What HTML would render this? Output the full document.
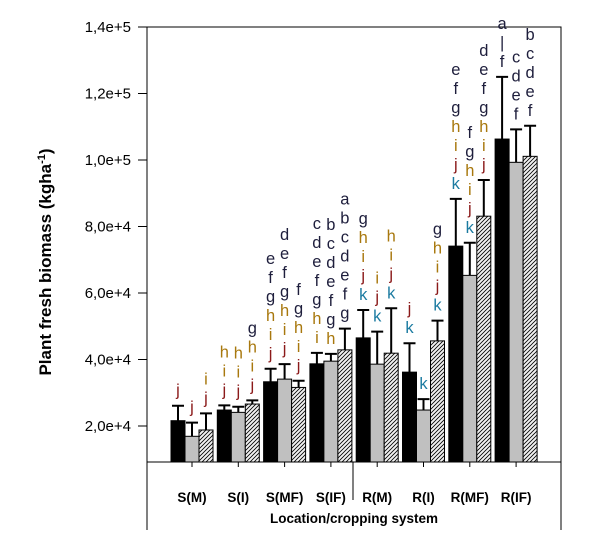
<!DOCTYPE html>
<html><head><meta charset="utf-8"><style>
body{margin:0;background:#fff;}
svg text{font-family:"Liberation Sans",Arial,sans-serif;}
</style></head><body>
<svg id="chart" width="602" height="554" xmlns="http://www.w3.org/2000/svg">
<defs>
<pattern id="hatch" patternUnits="userSpaceOnUse" width="4" height="4">
<rect width="4" height="4" fill="#f2f2f2"/>
<path d="M-1,1 l2,-2 M0,4 l4,-4 M3,5 l2,-2" stroke="#000" stroke-width="0.8"/>
</pattern>
</defs>
<g id="plot"></g>
</svg>
<script>
const categories=["S(M)","S(I)","S(MF)","S(IF)","R(M)","R(I)","R(MF)","R(IF)"];
const seriesBlack=[21600,24800,33300,38700,46500,36200,74100,106300];
const errBlack=[4500,1400,3900,3300,8400,8700,14200,18700];
const seriesGray=[16900,24100,34100,39500,38600,24800,65300,99300];
const errGray=[4100,1700,4500,2200,9800,3300,9800,9900];
const seriesHatch=[18800,26600,31600,42900,41900,45600,83100,101100];
const errHatch=[5000,1100,2000,6400,13500,6100,10900,9200];
const yTicks=[20000,40000,60000,80000,100000,120000,140000];
const yTickLabels=["2,0e+4","4,0e+4","6,0e+4","8,0e+4","1,0e+5","1,2e+5","1,4e+5"];
const lettersBlack=[["j"],["h","i","j"],["e","f","g","h","i","j"],["c","d","e","f","g","h","i"],["g","h","i","j","k"],["j","k"],["e","f","g","h","i","j","k"],["a","|","f"]];
const lettersGray=[["j"],["h","i","j"],["d","e","f","g","h","i","j"],["b","c","d","e","f","g","h"],["i","j","k"],["k"],["f","g","h","i","j","k"],["c","d","e","f"]];
const lettersHatch=[["i","j"],["g","h","i","j"],["f","g","h","i","j"],["a","b","c","d","e","f","g"],["h","i","j","k"],["g","h","i","j","k"],["d","e","f","g","h","i","j"],["b","c","d","e","f"]];

const NS="http://www.w3.org/2000/svg";
const g=document.getElementById('plot');
const L=147,R=561,T=27,B=462;
function y(v){return T+(140000-v)*(66.5/20000);}
function x(i){return 171+i*46.3;}
function mk(tag,attrs,parent){const e=document.createElementNS(NS,tag);for(const k in attrs)e.setAttribute(k,attrs[k]);(parent||g).appendChild(e);return e;}
function color(l){if("abcdefg|".includes(l))return "#1e1e3c";if(l==="h"||l==="i")return "#a8780e";if(l==="j")return "#8b1a1a";return "#1a7aa0";}

let fr=mk('rect',{x:L,y:T,width:R-L,height:B-T,fill:'none',stroke:'#000','stroke-width':1});


let lb=mk('line',{x1:L,y1:B,x2:L,y2:530,stroke:'#000'});


let rb=mk('line',{x1:R,y1:B,x2:R,y2:530,stroke:'#000'});


let dv=mk('line',{x1:353,y1:B,x2:353,y2:500,stroke:'#000'});



yTicks.forEach((v,i)=>{
  let t=mk('line',{x1:L-9,y1:y(v),x2:L,y2:y(v),stroke:'#000'});
  
  
  let tx=mk('text',{x:L-16,y:y(v)+5,'text-anchor':'end','font-size':15});
  tx.textContent=yTickLabels[i];
  
  
});

const series=[[seriesBlack,errBlack,'#000',lettersBlack,'black'],[seriesGray,errGray,'#c0c0c0',lettersGray,'gray'],[seriesHatch,errHatch,'url(#hatch)',lettersHatch,'hatched']];
const bw=14;
categories.forEach((c,i)=>{
  series.forEach((s,j)=>{
    const bx=x(i)+j*bw, v=s[0][i], e=s[1][i];
    let r=mk('rect',{x:bx,y:y(v),width:bw,height:B-y(v),fill:s[2],stroke:'#000','stroke-width':1});
    
    
    const cx=bx+bw/2, et=y(v+e);
    let el=mk('path',{d:`M${cx},${y(v)} V${et} M${cx-6},${et} H${cx+6}`,stroke:'#000','stroke-width':2,fill:'none'});
    
    
    const ls=s[3][i];
    ls.forEach((l,k)=>{
      let t=mk('text',{x:cx,y:et-10-(ls.length-1-k)*19,'text-anchor':'middle','font-size':16.5,fill:color(l)});
      t.textContent=l;
      
      
    });
  });
  const tx=x(i)+bw*1.5;
  let tk=mk('line',{x1:tx,y1:B,x2:tx,y2:B+5,stroke:'#000'});
  
  
  let lab=mk('text',{x:tx,y:502,'text-anchor':'middle','font-size':13.5,'font-weight':'bold'});
  lab.textContent=c;
  
  
});
let xt=mk('text',{x:354,y:523,'text-anchor':'middle','font-size':13.5,'font-weight':'bold'});
xt.textContent="Location/cropping system";


let yt=mk('text',{x:0,y:0,'text-anchor':'middle','font-size':17,'font-weight':'bold',transform:'translate(51,262) rotate(-90)'});
yt.innerHTML='Plant fresh biomass (kgha<tspan dy="-6" font-size="11">-1</tspan><tspan dy="6">)</tspan>';


</script>
</body></html>
